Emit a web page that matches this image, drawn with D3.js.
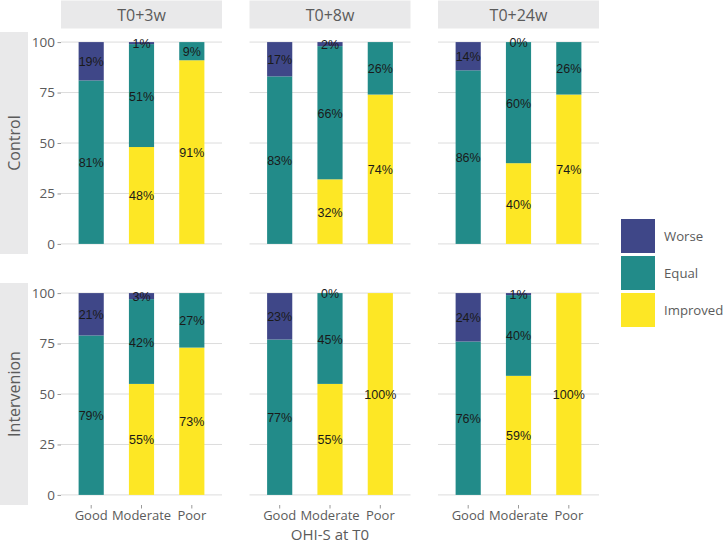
<!DOCTYPE html>
<html>
<head>
<meta charset="utf-8">
<script src="https://cdn.jsdelivr.net/npm/d3@7"></script>
<style>
  html, body { margin: 0; padding: 0; background: #fff; }
  svg { display: block; }
</style>
</head>
<body>
<svg id="chart" width="726" height="543"></svg>
<script>
// ---- data ----
const times = ["T0+3w", "T0+8w", "T0+24w"];
const groups = ["Control", "Intervenion"];
const categories = ["Good", "Moderate", "Poor"];
const outcomes = ["Worse", "Equal", "Improved"];
const yTicks = [0, 25, 50, 75, 100];
// rows: time (3w, 8w, 24w); columns: category (Good, Moderate, Poor); null = absent
const controlWorse    = [[19, 1, null], [17, 2, null], [14, 0, null]];
const controlEqual    = [[81, 51, 9], [83, 66, 26], [86, 60, 26]];
const controlImproved = [[null, 48, 91], [null, 32, 74], [null, 40, 74]];
const interWorse      = [[21, 3, null], [23, 0, null], [24, 1, null]];
const interEqual      = [[79, 42, 27], [77, 45, null], [76, 40, null]];
const interImproved   = [[null, 55, 73], [null, 55, 100], [null, 59, 100]];
const axisTitle = "OHI-S at T0";

const groupData = {
  "Control": { Worse: controlWorse, Equal: controlEqual, Improved: controlImproved },
  "Intervenion": { Worse: interWorse, Equal: interEqual, Improved: interImproved }
};

const colors = d3.scaleOrdinal().domain(outcomes).range(["#3F4788", "#228B89", "#FDE725"]);

// ---- layout ----
const svg = d3.select("#chart");
const themeFont = "'Open Sans', 'Noto Sans', sans-serif";
const labelFont = "'Liberation Sans', Arial, sans-serif";
const textGray = "#5b5b5b";
const panelX = [61, 249.5, 438];
const panelW = 161;
const panelY = [32, 283];
const panelH = 222;

// column strips
times.forEach((t, i) => {
  svg.append("rect").attr("x", panelX[i]).attr("y", 0.5).attr("width", panelW).attr("height", 28)
    .attr("fill", "#E9E9EA");
  svg.append("text").attr("x", panelX[i] + panelW / 2).attr("y", 15)
    .attr("text-anchor", "middle").attr("dominant-baseline", "central")
    .attr("font-family", themeFont).attr("font-size", 16).attr("fill", textGray).text(t);
});
// row strips
groups.forEach((g, r) => {
  svg.append("rect").attr("x", 0).attr("y", panelY[r]).attr("width", 28).attr("height", panelH)
    .attr("fill", "#E9E9EA");
  svg.append("text")
    .attr("transform", `translate(14,${panelY[r] + panelH / 2}) rotate(-90)`)
    .attr("text-anchor", "middle").attr("dominant-baseline", "central")
    .attr("font-family", themeFont).attr("font-size", 16).attr("fill", textGray).text(g);
});

groups.forEach((g, r) => {
  const y = d3.scaleLinear().domain([-5, 105]).range([panelY[r] + panelH, panelY[r]]);
  times.forEach((t, c) => {
    const x = d3.scaleBand().domain(categories)
      .range([panelX[c], panelX[c] + panelW]).paddingInner(0.5).paddingOuter(0.35);
    const p = svg.append("g");
    // gridlines
    p.selectAll("line.grid").data(yTicks).join("line")
      .attr("x1", panelX[c]).attr("x2", panelX[c] + panelW)
      .attr("y1", d => y(d)).attr("y2", d => y(d))
      .attr("stroke", "#DCDCDC").attr("stroke-width", 1);

    // stacked bars: Improved bottom, Equal middle, Worse top
    const stackOrder = ["Improved", "Equal", "Worse"];
    categories.forEach((cat, k) => {
      let base = 0;
      stackOrder.forEach(o => {
        const v = groupData[g][o][c][k];
        if (v === null) return;
        const y0 = base, y1 = base + v;
        base = y1;
        p.append("rect")
          .attr("x", x(cat)).attr("width", x.bandwidth())
          .attr("y", y(y1)).attr("height", Math.max(0, y(y0) - y(y1)))
          .attr("fill", colors(o));
        p.append("text")
          .attr("x", x(cat) + x.bandwidth() / 2).attr("y", y((y0 + y1) / 2))
          .attr("text-anchor", "middle").attr("dy", "0.4em")
          .attr("font-family", labelFont).attr("font-size", 12.5).attr("fill", "#1a1a1a")
          .text(v + "%");
      });
    });

    // y axis on first column
    if (c === 0) {
      const ax = d3.axisLeft(y).tickValues(yTicks).tickSize(3.5).tickPadding(2.5);
      const gA = svg.append("g").attr("transform", `translate(${panelX[c]},0)`).call(ax);
      gA.select(".domain").remove();
      gA.selectAll("line").attr("stroke", "#9a9a9a");
      gA.selectAll("text").attr("font-family", themeFont).attr("font-size", 13.5).attr("fill", textGray);
    }
    // x axis on bottom row
    if (r === groups.length - 1) {
      const ax = d3.axisBottom(x).tickSize(3.5).tickPadding(2);
      const gA = svg.append("g").attr("transform", `translate(0,${panelY[r] + panelH})`).call(ax);
      gA.select(".domain").remove();
      gA.selectAll("line").attr("stroke", "#9a9a9a");
      gA.selectAll("text").attr("font-family", themeFont).attr("font-size", 13).attr("fill", textGray);
    }
  });
});

// axis title
svg.append("text").attr("x", (panelX[0] + panelX[2] + panelW) / 2).attr("y", 539.5)
  .attr("text-anchor", "middle")
  .attr("font-family", themeFont).attr("font-size", 15).attr("fill", textGray).text(axisTitle);

// legend
const legY = [219, 256, 293];
outcomes.forEach((o, i) => {
  svg.append("rect").attr("x", 621).attr("y", legY[i]).attr("width", 34).attr("height", 34)
    .attr("fill", colors(o));
  svg.append("text").attr("x", 664).attr("y", legY[i] + 17)
    .attr("dominant-baseline", "central")
    .attr("font-family", themeFont).attr("font-size", 13.2).attr("fill", textGray).text(o);
});
</script>
</body>
</html>
